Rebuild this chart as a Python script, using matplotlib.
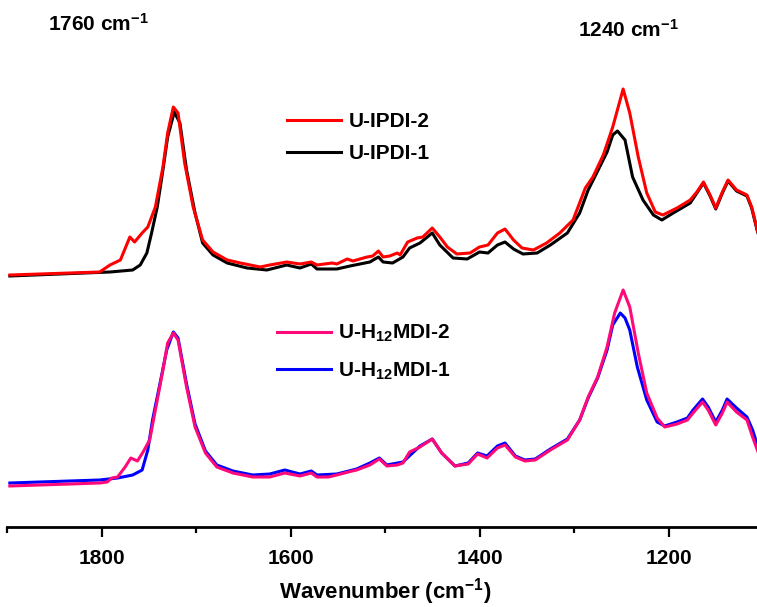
import numpy as np
import matplotlib
matplotlib.use("Agg")
import matplotlib.pyplot as plt
from matplotlib.lines import Line2D
from matplotlib.ticker import MultipleLocator

plt.rcParams['font.family'] = ['Liberation Sans', 'DejaVu Sans']
plt.rcParams['font.weight'] = 'bold'
plt.rcParams['mathtext.fontset'] = 'custom'
plt.rcParams['mathtext.rm'] = 'Liberation Sans:bold'
plt.rcParams['mathtext.bf'] = 'Liberation Sans:bold'
plt.rcParams['mathtext.default'] = 'rm'
plt.rcParams['lines.solid_joinstyle'] = 'round'

# --- data (arbitrary absorbance units, offset stacked) ---
wn_ipdi2 = [1897, 1802, 1791, 1780, 1770, 1765, 1757, 1751, 1743, 1735, 1730, 1724, 1719,
            1712, 1703, 1693, 1682, 1667, 1653, 1632, 1622, 1604, 1590, 1578, 1572, 1556,
            1551, 1540, 1534, 1519, 1513, 1507, 1502, 1495, 1487, 1484, 1476, 1466, 1460,
            1450, 1442, 1434, 1424, 1410, 1400, 1391, 1381, 1373, 1364, 1355, 1343, 1329,
            1315, 1301, 1288, 1280, 1269, 1259, 1248, 1241, 1232, 1223, 1214, 1206, 1191,
            1177, 1170, 1163, 1156, 1150, 1143, 1137, 1128, 1117, 1112, 1106, 1100]
ab_ipdi2 = [2.52, 2.55, 2.62, 2.67, 2.90, 2.85, 2.94, 3.00, 3.20, 3.60, 3.94, 4.20, 4.14,
            3.64, 3.20, 2.87, 2.75, 2.67, 2.64, 2.60, 2.62, 2.65, 2.63, 2.65, 2.62, 2.64,
            2.63, 2.68, 2.66, 2.70, 2.71, 2.76, 2.70, 2.71, 2.74, 2.72, 2.85, 2.89, 2.90,
            2.99, 2.90, 2.80, 2.73, 2.74, 2.80, 2.82, 2.94, 2.98, 2.87, 2.79, 2.77, 2.84,
            2.94, 3.07, 3.39, 3.50, 3.72, 4.00, 4.38, 4.14, 3.70, 3.34, 3.15, 3.12, 3.19,
            3.27, 3.35, 3.45, 3.32, 3.19, 3.35, 3.47, 3.37, 3.32, 3.20, 2.97, 2.80]

wn_ipdi1 = [1897, 1791, 1767, 1759, 1752, 1747, 1741, 1735, 1730, 1723, 1717, 1710, 1701,
            1693, 1682, 1667, 1646, 1625, 1604, 1590, 1578, 1572, 1551, 1537, 1516, 1507,
            1502, 1492, 1481, 1474, 1463, 1450, 1442, 1428, 1413, 1400, 1391, 1381, 1373,
            1364, 1354, 1339, 1325, 1307, 1294, 1285, 1276, 1265, 1259, 1254, 1246, 1238,
            1227, 1216, 1207, 1195, 1177, 1170, 1163, 1156, 1150, 1143, 1137, 1128, 1117,
            1112, 1106, 1100]
ab_ipdi1 = [2.51, 2.55, 2.57, 2.62, 2.74, 2.94, 3.20, 3.57, 3.90, 4.15, 4.04, 3.57, 3.14,
            2.84, 2.72, 2.64, 2.59, 2.57, 2.62, 2.59, 2.63, 2.58, 2.58, 2.61, 2.65, 2.70,
            2.65, 2.64, 2.70, 2.79, 2.84, 2.94, 2.82, 2.69, 2.68, 2.75, 2.74, 2.82, 2.85,
            2.78, 2.73, 2.74, 2.82, 2.94, 3.14, 3.37, 3.54, 3.75, 3.92, 3.96, 3.87, 3.50,
            3.27, 3.12, 3.07, 3.14, 3.24, 3.34, 3.44, 3.31, 3.18, 3.34, 3.46, 3.36, 3.31,
            3.19, 2.96, 2.79]

wn_mdi2 = [1897, 1802, 1794, 1789, 1783, 1775, 1769, 1762, 1756, 1749, 1741, 1735, 1730,
           1724, 1719, 1710, 1701, 1690, 1678, 1661, 1640, 1622, 1606, 1590, 1578, 1572,
           1560, 1551, 1539, 1530, 1516, 1506, 1498, 1487, 1481, 1474, 1463, 1450, 1440,
           1426, 1412, 1402, 1392, 1381, 1373, 1362, 1352, 1341, 1325, 1307, 1294, 1285,
           1275, 1265, 1257, 1248, 1241, 1232, 1223, 1212, 1204, 1191, 1180, 1174, 1164,
           1158, 1150, 1143, 1138, 1128, 1117, 1111, 1106, 1100]
ab_mdi2 = [0.41, 0.44, 0.45, 0.49, 0.50, 0.60, 0.69, 0.66, 0.75, 0.87, 1.27, 1.57, 1.84,
           1.94, 1.87, 1.40, 1.00, 0.74, 0.60, 0.54, 0.50, 0.50, 0.54, 0.51, 0.54, 0.50,
           0.50, 0.52, 0.55, 0.57, 0.62, 0.68, 0.61, 0.62, 0.64, 0.75, 0.80, 0.88, 0.74,
           0.61, 0.63, 0.73, 0.69, 0.79, 0.82, 0.70, 0.66, 0.67, 0.77, 0.87, 1.07, 1.30,
           1.50, 1.80, 2.14, 2.37, 2.20, 1.74, 1.34, 1.09, 1.00, 1.03, 1.07, 1.14, 1.25,
           1.17, 1.02, 1.14, 1.25, 1.15, 1.07, 0.90, 0.77, 0.62]

wn_mdi1 = [1897, 1802, 1783, 1767, 1757, 1751, 1746, 1738, 1731, 1724, 1719, 1710, 1701,
           1690, 1678, 1661, 1640, 1622, 1606, 1590, 1578, 1572, 1551, 1530, 1516, 1506,
           1498, 1481, 1463, 1450, 1440, 1426, 1412, 1402, 1392, 1381, 1373, 1362, 1352,
           1341, 1325, 1307, 1294, 1285, 1275, 1265, 1259, 1251, 1246, 1241, 1233, 1223,
           1212, 1204, 1191, 1180, 1174, 1164, 1158, 1150, 1143, 1138, 1128, 1117, 1111,
           1106, 1100]
ab_mdi1 = [0.44, 0.47, 0.49, 0.52, 0.57, 0.77, 1.07, 1.44, 1.77, 1.95, 1.89, 1.43, 1.03,
           0.76, 0.62, 0.56, 0.52, 0.53, 0.57, 0.53, 0.56, 0.52, 0.53, 0.58, 0.64, 0.69,
           0.62, 0.65, 0.81, 0.88, 0.74, 0.61, 0.64, 0.74, 0.71, 0.81, 0.84, 0.71, 0.67,
           0.68, 0.78, 0.88, 1.07, 1.29, 1.49, 1.77, 2.02, 2.14, 2.09, 1.97, 1.60, 1.27,
           1.05, 1.01, 1.05, 1.09, 1.17, 1.28, 1.20, 1.05, 1.17, 1.28, 1.19, 1.10, 0.97,
           0.82, 0.68]

fig = plt.figure(figsize=(7.57, 6.07), dpi=100)
ax = fig.add_axes([7/757, 80/607, 756/757, 527/607])

lw = 2.2
ax.plot(wn_ipdi1, ab_ipdi1, color='black', lw=lw)
ax.plot(wn_ipdi2, ab_ipdi2, color='#ff0000', lw=lw)
ax.plot(wn_mdi1, ab_mdi1, color='#0000ff', lw=lw)
ax.plot(wn_mdi2, ab_mdi2, color='#ff0a78', lw=lw)

ax.set_xlim(1900, 1100)
ax.set_ylim(0, 5.27)
for s in ['left', 'right', 'top']:
    ax.spines[s].set_visible(False)
ax.spines['bottom'].set_linewidth(2)
ax.set_yticks([])
ax.xaxis.set_major_locator(MultipleLocator(200))
ax.xaxis.set_minor_locator(MultipleLocator(100))
ax.tick_params(axis='x', which='major', direction='out', length=7.5, width=1.6,
               labelsize=15, pad=8)
ax.tick_params(axis='x', which='minor', direction='out', length=4, width=1.6)
for lab in ax.get_xticklabels():
    lab.set_fontweight('bold')
ax.set_xlabel('Wavenumber (cm$^{-1}$)', fontsize=16, fontweight='bold', labelpad=6)

# legends
h1 = [Line2D([], [], color='#ff0000', lw=lw), Line2D([], [], color='black', lw=lw)]
leg1 = fig.legend(h1, ['U-IPDI-2', 'U-IPDI-1'], loc='upper left',
                  bbox_to_anchor=(287/757, 1 - 112/607), frameon=False,
                  prop={'size': 15, 'weight': 'bold'}, handlelength=2.6,
                  handletextpad=0.35, labelspacing=0.62, borderpad=0, borderaxespad=0)
h2 = [Line2D([], [], color='#ff0a78', lw=lw), Line2D([], [], color='#0000ff', lw=lw)]
leg2 = fig.legend(h2, ['U-H$_{12}$MDI-2', 'U-H$_{12}$MDI-1'], loc='upper left',
                  bbox_to_anchor=(277/757, 1 - 323/607), frameon=False,
                  prop={'size': 15, 'weight': 'bold'}, handlelength=2.6,
                  handletextpad=0.35, labelspacing=0.78, borderpad=0, borderaxespad=0)

fig.text(98/757, 1 - 24/607, '1760 cm$^{-1}$', ha='center', va='center',
         fontsize=15, fontweight='bold')
fig.text(628/757, 1 - 30/607, '1240 cm$^{-1}$', ha='center', va='center',
         fontsize=15, fontweight='bold')

fig.savefig('out.png', dpi=100)
